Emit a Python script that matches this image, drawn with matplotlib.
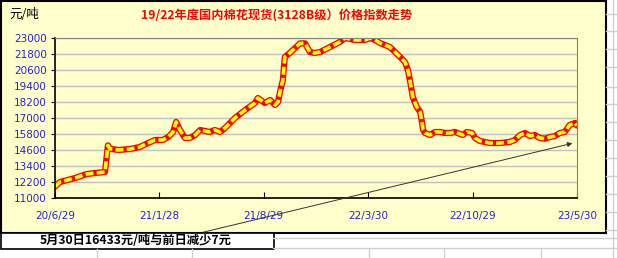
import numpy as np
import matplotlib
matplotlib.use('Agg')
import matplotlib.pyplot as plt
import matplotlib.dates as mdates
import pandas as pd
from matplotlib.patches import Rectangle

plt.rcParams['font.family'] = ['Noto Sans CJK SC', 'DejaVu Sans']

## 数据
dates = ['2020-06-29', '2020-07-09', '2020-08-09', '2020-09-02', '2020-09-19', '2020-10-09',
         '2020-10-15', '2020-10-19', '2020-11-05', '2020-11-29', '2020-12-19', '2021-01-05',
         '2021-01-19', '2021-02-04', '2021-02-15', '2021-02-25', '2021-03-03', '2021-03-11',
         '2021-03-21', '2021-03-31', '2021-04-11', '2021-04-21', '2021-05-11', '2021-05-21',
         '2021-06-01', '2021-06-11', '2021-07-01', '2021-07-22', '2021-08-11', '2021-08-17',
         '2021-08-31', '2021-09-11', '2021-09-21', '2021-09-27', '2021-10-01', '2021-10-07',
         '2021-10-09', '2021-10-11', '2021-10-21', '2021-11-01', '2021-11-11', '2021-11-21',
         '2021-12-01', '2021-12-11', '2021-12-22', '2022-01-11', '2022-01-31', '2022-02-11',
         '2022-03-03', '2022-03-13', '2022-03-23', '2022-04-03', '2022-04-13', '2022-04-23',
         '2022-05-03', '2022-05-13', '2022-05-24', '2022-06-03', '2022-06-13', '2022-06-19',
         '2022-06-23', '2022-06-29', '2022-07-07', '2022-07-14', '2022-07-18', '2022-07-20',
         '2022-07-24', '2022-08-03', '2022-08-13', '2022-08-23', '2022-09-03', '2022-09-13',
         '2022-09-23', '2022-10-09', '2022-10-17', '2022-10-28', '2022-11-03', '2022-11-13',
         '2022-12-03', '2022-12-24', '2023-01-13', '2023-01-23', '2023-02-03', '2023-02-13',
         '2023-02-23', '2023-03-05', '2023-03-15', '2023-03-26', '2023-04-05', '2023-04-15',
         '2023-04-25', '2023-05-05', '2023-05-15', '2023-05-26', '2023-05-30']
prices = [11850, 12200, 12500, 12800, 12875, 12950,
          14950, 14700, 14600, 14675, 14825, 15125,
          15350, 15350, 15575, 15950, 16700, 16100,
          15500, 15500, 15725, 16100, 15950, 16100,
          15950, 16250, 17000, 17600, 18125, 18500,
          18125, 18350, 17975, 18200, 18950, 19850,
          20825, 21575, 21875, 22250, 22600, 22600,
          21950, 21875, 21950, 22325, 22700, 23000,
          22850, 22850, 22850, 23000, 22850, 22625,
          22475, 22325, 21950, 21575, 21200, 20600,
          19850, 18575, 17825, 17450, 16625, 16100,
          15875, 15725, 15950, 15950, 15875, 15875,
          15950, 15725, 15950, 15875, 15500, 15275,
          15125, 15125, 15200, 15350, 15725, 15875,
          15650, 15725, 15500, 15450, 15575, 15650,
          15875, 15950, 16475, 16625, 16433]
xtick_dates = ['2020-06-29', '2021-01-28', '2021-08-29', '2022-03-30', '2022-10-29', '2023-05-30']
xtick_labels = ['20/6/29', '21/1/28', '21/8/29', '22/3/30', '22/10/29', '23/5/30']
yticks = [11000, 12200, 13400, 14600, 15800, 17000, 18200, 19400, 20600, 21800, 23000]

title = '19/22年度国内棉花现货(3128B级）价格指数走势'
unit = '元/吨'
note = '5月30日16433元/吨与前日减少7元'

x = pd.to_datetime(dates)
xt = pd.to_datetime(xtick_dates)

W, H = 617, 258
fig = plt.figure(figsize=(W / 100, H / 100), dpi=100, facecolor='white')

## 表格网格线（背景）
for gx in [97, 192, 369, 444, 541]:
    fig.add_artist(plt.Line2D([gx / W, gx / W], [0, 9 / H], color='#D0D0D0', lw=1))
for gy in [238, 248]:
    fig.add_artist(plt.Line2D([273 / W, 1], [1 - gy / H, 1 - gy / H], color='#D0D0D0', lw=1))
for gy in [14, 31, 49, 67, 87, 104, 122, 140, 158, 176, 194, 212, 230]:
    fig.add_artist(plt.Line2D([606 / W, 1], [1 - gy / H, 1 - gy / H], color='#D0D0D0', lw=1))
fig.add_artist(plt.Line2D([613 / W, 613 / W], [0, 1], color='#D0D0D0', lw=1))

## 图表区
fig.add_artist(Rectangle((0.5 / W, 1 - 233 / H), 605 / W, 232.5 / H, transform=fig.transFigure,
                         facecolor='#FFFFCC', edgecolor='black', lw=1.5, zorder=1))
fig.add_artist(Rectangle((0.5 / W, 1 - 249 / H), 273 / W, 16 / H, transform=fig.transFigure,
                         facecolor='white', edgecolor='black', lw=1.2, zorder=1))

ax = fig.add_axes([55 / W, 1 - 198 / H, 522 / W, 160 / H])
ax.set_facecolor('#FFFFCC')
ax.set_zorder(2)

ax.plot(x, prices, color='#FF0000', lw=4.5, solid_capstyle='round', solid_joinstyle='round')
ax.plot(x, prices, color='#FFFF00', lw=2.6, linestyle=(0, (2.2, 0.9)))

ax.set_xlim(xt[0], xt[-1])
ax.set_ylim(11000, 23000)
ax.set_yticks(yticks)
ax.set_xticks(xt)
ax.set_xticklabels(xtick_labels)
ax.grid(axis='y', color='#C0C0C0', lw=1)
ax.set_axisbelow(True)

for s in ['top', 'right']:
    ax.spines[s].set_color('#808080')
for s in ['left', 'bottom']:
    ax.spines[s].set_color('black')
    ax.spines[s].set_linewidth(1.2)

ax.tick_params(axis='y', direction='out', length=3, colors='black', labelcolor='#2222DD',
               labelsize=7.5, pad=3)
ax.tick_params(axis='x', direction='in', length=4, colors='black', labelcolor='#2222DD',
               labelsize=7.5, pad=9)
for lab in ax.get_xticklabels() + ax.get_yticklabels():
    lab.set_family('DejaVu Sans')

## 文字
fig.text(277 / W, 1 - 15 / H, title, color='#FF0000', fontsize=8.8, fontweight='bold',
         ha='center', va='center', zorder=3)
fig.text(9 / W, 1 - 15 / H, unit, color='black', fontsize=9, ha='left', va='center', zorder=3)
fig.text(136 / W, 1 - 241 / H, note, color='black', fontsize=8.8, fontweight='bold',
         ha='center', va='center', zorder=3)

## 箭头
ax.annotate('', xy=(pd.Timestamp('2023-05-26'), 15150), xycoords='data',
            xytext=(200, H - 233), textcoords='figure pixels',
            arrowprops=dict(arrowstyle='-|>', color='#333333', lw=0.7, mutation_scale=7),
            annotation_clip=False, zorder=5)

fig.savefig('out.png', dpi=100, facecolor='white')
